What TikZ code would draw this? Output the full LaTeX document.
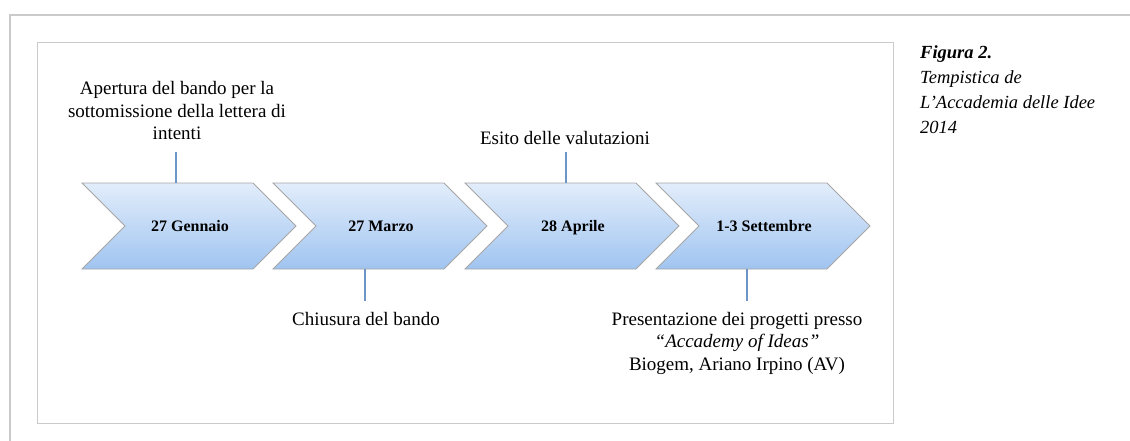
\documentclass[tikz,border=0pt]{standalone}
\usepackage{fontspec}
\setmainfont{Liberation Serif}
\usetikzlibrary{positioning}
\definecolor{pfeiloben}{RGB}{226,237,251}
\definecolor{pfeilunten}{RGB}{160,196,240}
\definecolor{verbinder}{RGB}{108,150,200}
\definecolor{rahmen}{RGB}{202,202,202}
\begin{document}
\begin{tikzpicture}[x=1pt,y=-1pt,
    pfeil/.style={draw=gray!70, line width=0.8pt, top color=pfeiloben, bottom color=pfeilunten},
    datum/.style={font=\bfseries\fontsize{16}{19}\selectfont, anchor=base},
    notiz/.style={font=\fontsize{19}{22.5}\selectfont, align=center, inner xsep=2pt, inner ysep=10pt},
    linie/.style={draw=verbinder, line width=1.5pt}]
    \useasboundingbox (0,0) rectangle (1130,441);

    % Rahmen
    \draw[rahmen, line width=1.5pt] (10,441) -- (10,15) -- (1130,15);
    \draw[rahmen, line width=1pt] (37,43) rectangle (893,423);

    % Pfeile der Zeitleiste
    \foreach \n/\x/\t in {1/82/27 Gennaio, 2/273/27 Marzo, 3/465/28 Aprile, 4/656/1-3 Settembre} {
        \draw[pfeil] (\x,183) -- ++(171,0) -- ++(43,43) -- ++(-43,43) -- ++(-171,0) -- ++(43,-43) -- cycle;
        \node[datum] (d\n) at (\x+108,231) {\t};
    }
    \coordinate (o1) at (176,183);
    \coordinate (u2) at (365,269);
    \coordinate (o3) at (566,183);
    \coordinate (u4) at (747,269);

    % Beschriftungen oben
    \node[notiz, anchor=south, inner ysep=12pt] (l1) at (177,152) {Apertura del bando per la\\sottomissione della lettera di\\intenti};
    \node[notiz, anchor=south, inner ysep=7pt] (l3) at (565,152) {Esito delle valutazioni};

    % Beschriftungen unten
    \node[notiz, anchor=north, inner ysep=11pt] (l2) at (366,301) {Chiusura del bando};
    \node[notiz, anchor=north, inner ysep=11pt] (l4) at (737,301) {Presentazione dei progetti presso\\\textit{``Accademy of Ideas''}\\Biogem, Ariano Irpino (AV)};

    % Verbinder
    \draw[linie] (o1) -- (o1 |- l1.south);
    \draw[linie] (o3) -- (o3 |- l3.south);
    \draw[linie] (u2) -- (u2 |- l2.north);
    \draw[linie] (u4) -- (u4 |- l4.north);

    % Bildunterschrift
    \node[anchor=north west, align=left, inner sep=0pt, font=\itshape\fontsize{18.5}{25}\selectfont] (titel) at (920,45)
        {\textbf{Figura 2.}\\Tempistica de\\L’Accademia delle Idee\\2014};
\end{tikzpicture}
\end{document}
